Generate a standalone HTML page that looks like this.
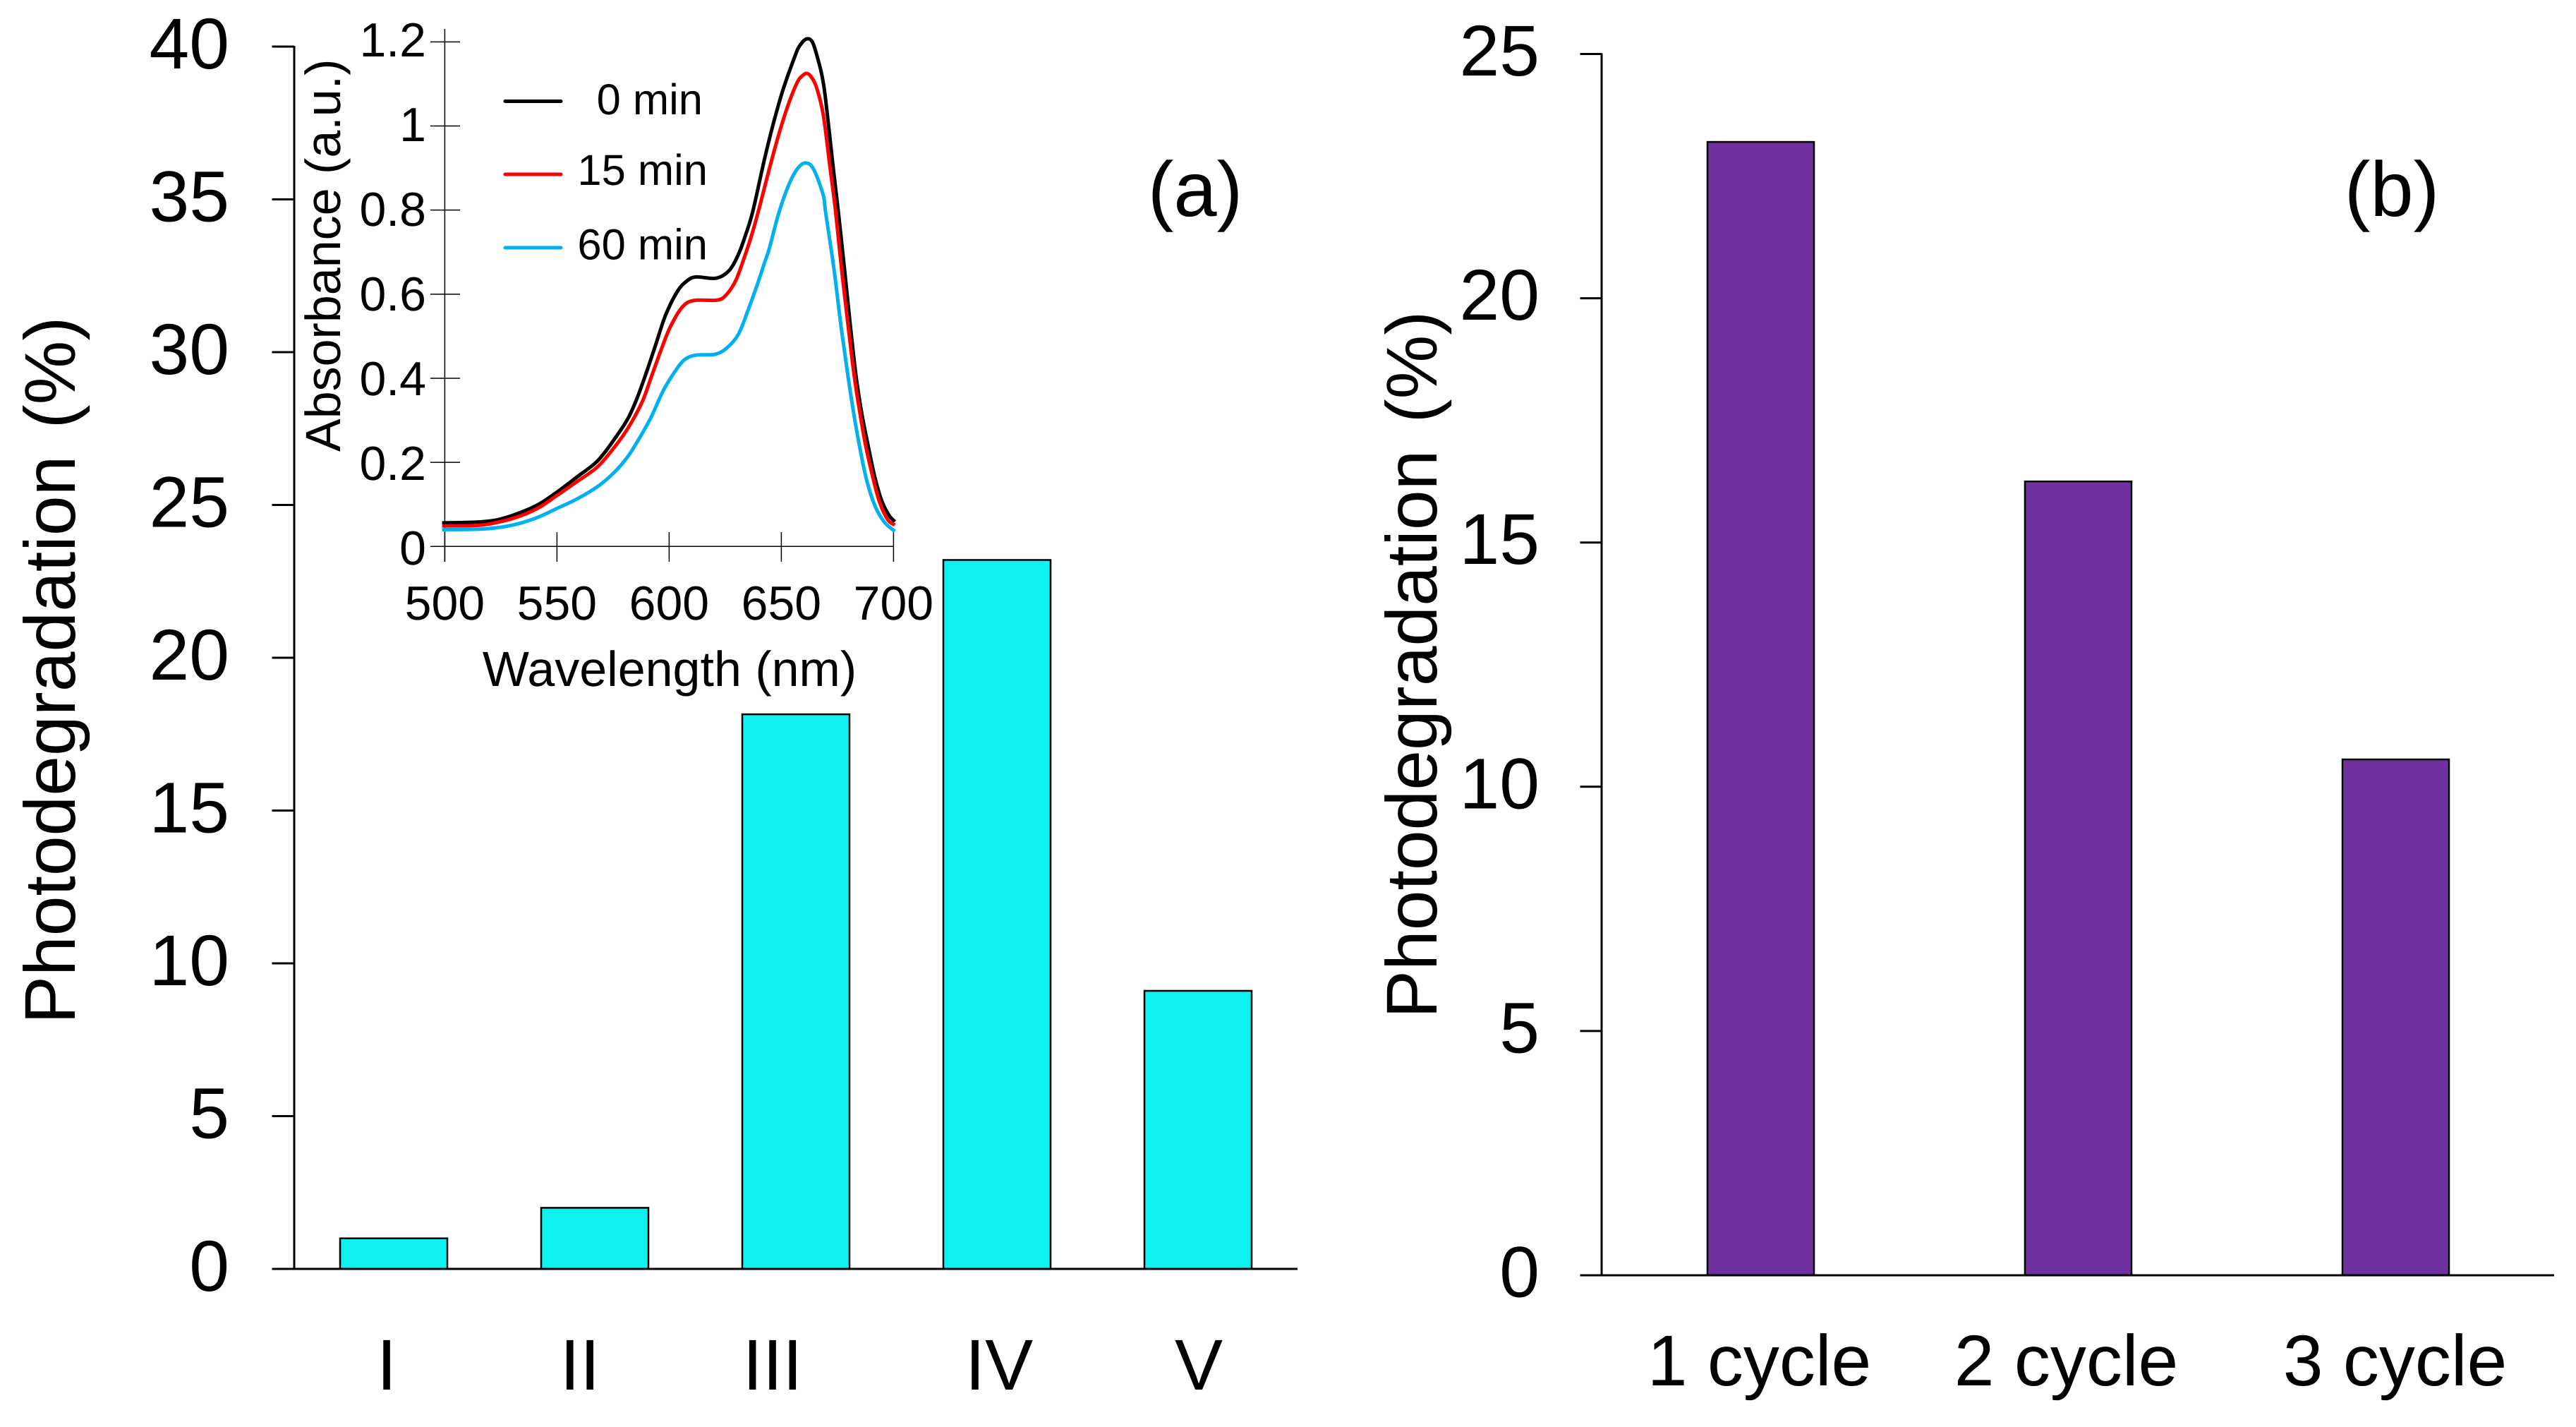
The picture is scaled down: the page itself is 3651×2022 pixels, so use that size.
<!DOCTYPE html>
<html lang="en">
<head>
<meta charset="utf-8">
<title>Photodegradation charts</title>
<style>
html,body{margin:0;padding:0;background:#fff;}
svg{display:block;}
text{font-family:"Liberation Sans",Arial,sans-serif;fill:#000;text-rendering:geometricPrecision;}
</style>
</head>
<body>
<svg id="figure" xmlns="http://www.w3.org/2000/svg" width="3651" height="2022" viewBox="0 0 3651 2022">
<rect x="0" y="0" width="3651" height="2022" fill="#fff"/>
<g id="panel-a"></g>
<g id="inset"></g>
<g id="panel-b"></g>
<text font-size="102" word-spacing="10" transform="translate(106 1451) rotate(-90)">Photodegradation (%)</text>
<text font-size="102" word-spacing="10" transform="translate(2036 1443) rotate(-90)">Photodegradation (%)</text>
<text font-size="70" transform="translate(482 640) rotate(-90)">Absorbance (a.u.)</text>
<text font-size="70" x="949" y="972" text-anchor="middle">Wavelength (nm)</text>
<text font-size="110" x="1694" y="306" text-anchor="middle">(a)</text>
<text font-size="110" x="3390" y="306" text-anchor="middle">(b)</text>
</svg>
<script>
// Panel (a) data
const catsA = ['I', 'II', 'III', 'IV', 'V'];
const valuesA = [1.0, 2.0, 18.15, 23.2, 9.1];
const ticksA = [0, 5, 10, 15, 20, 25, 30, 35, 40];

// Panel (b) data
const catsB = ['1 cycle', '2 cycle', '3 cycle'];
const valuesB = [23.2, 16.25, 10.56];
const ticksB = [0, 5, 10, 15, 20, 25];

// Inset data
const insetXTicks = [500, 550, 600, 650, 700];
const insetYTicks = [0, 0.2, 0.4, 0.6, 0.8, 1, 1.2];
const legendLabels = ['0 min', '15 min', '60 min'];

const nm0 = [498.8, 514.5, 524, 533.4, 541.8, 550.2, 558.6, 568, 575.3, 581.6, 585.8, 590, 594.2, 598.4, 603.6, 607.8, 612, 620.9, 626.7, 630.9, 634, 637.2, 642.4, 646.6, 650.8, 656, 658.1, 661.2, 663.9, 666.5, 668.1, 669.7, 673.2, 675.4, 678.1, 680.7, 683.3, 685.9, 688.6, 691.7, 694.8, 698, 700.6];
const abs0 = [0.056, 0.058, 0.064, 0.080, 0.100, 0.130, 0.164, 0.203, 0.253, 0.304, 0.354, 0.416, 0.483, 0.550, 0.606, 0.631, 0.641, 0.638, 0.656, 0.695, 0.740, 0.795, 0.919, 1.009, 1.087, 1.165, 1.190, 1.207, 1.199, 1.155, 1.120, 1.065, 0.897, 0.796, 0.662, 0.528, 0.405, 0.315, 0.242, 0.164, 0.108, 0.074, 0.059];

const nm15 = [498.8, 514.5, 524, 533.4, 541.8, 550.2, 558.6, 568, 575.3, 581.6, 587.9, 592.1, 596.3, 600.5, 605.8, 611, 621.5, 625.7, 629.8, 634, 637.2, 640.5, 644.3, 648.7, 652.9, 657.1, 659.5, 661.2, 663, 665.6, 668.7, 671.8, 674.2, 676.8, 679.7, 682.5, 685.1, 687.5, 690.8, 693.8, 697.5, 700.6];
const abs15 = [0.049, 0.050, 0.058, 0.072, 0.092, 0.122, 0.153, 0.189, 0.234, 0.281, 0.343, 0.404, 0.466, 0.522, 0.569, 0.585, 0.586, 0.600, 0.634, 0.695, 0.748, 0.812, 0.891, 0.977, 1.048, 1.104, 1.120, 1.125, 1.119, 1.093, 1.026, 0.897, 0.796, 0.662, 0.528, 0.405, 0.315, 0.242, 0.164, 0.105, 0.063, 0.051];

const nm60 = [498.8, 514.5, 524, 533.4, 541.8, 550.2, 558.6, 568, 575.3, 581.6, 586.9, 592.1, 597.4, 602.6, 606.8, 612, 620.4, 625.7, 630.9, 635.1, 639.3, 642.4, 644.6, 648.7, 653, 657, 660.8, 664.4, 668.7, 669.7, 673.4, 676.5, 679.7, 682.3, 684.9, 688, 691.7, 695.9, 700.6];
const abs60 = [0.040, 0.041, 0.045, 0.055, 0.070, 0.091, 0.112, 0.142, 0.175, 0.214, 0.259, 0.309, 0.371, 0.416, 0.444, 0.455, 0.457, 0.472, 0.505, 0.561, 0.623, 0.673, 0.708, 0.790, 0.856, 0.897, 0.912, 0.897, 0.835, 0.796, 0.662, 0.528, 0.405, 0.315, 0.237, 0.158, 0.097, 0.058, 0.036];

// Layout (not data)
const SVGNS = 'http://www.w3.org/2000/svg';
const gA = document.getElementById('panel-a');
const gB = document.getElementById('panel-b');
const gI = document.getElementById('inset');

function mk(parent, tag, attrs, txt) {
  const el = document.createElementNS(SVGNS, tag);
  for (const k in attrs) el.setAttribute(k, attrs[k]);
  if (txt !== undefined) el.textContent = txt;
  parent.appendChild(el);
  return el;
}

const yA = v => 1798 - v * 43.3;
const xA = i => 558 + i * 285;
const yB = v => 1807 - v * 69.22;
const xB = i => 2495.5 + i * 450;
const xI = w => 630.4 + (w - 500) * 3.18;
const yI = v => 774.3 - v * 595.8;

const nudgeA = [-10, -21, -33, 3, 1];
const nudgeB = [-2, -17, -1];

// Panel (a) axes
const axisAY = mk(gA, 'line', {x1: 417, x2: 417, y1: yA(40) - 1, y2: yA(0) + 1, stroke: '#000', 'stroke-width': 3});


ticksA.forEach(t => {
  const tick = mk(gA, 'line', {x1: 385.5, x2: 417, y1: yA(t), y2: yA(t), stroke: '#000', 'stroke-width': 3});
  
  
  const lab = mk(gA, 'text', {x: 325, y: yA(t) + 31, 'font-size': 102, 'text-anchor': 'end'}, String(t));
  
  
});

// Panel (a) bars
valuesA.forEach((v, i) => {
  const bar = mk(gA, 'rect', {x: xA(i) - 76, y: yA(v), width: 152, height: yA(0) - yA(v), fill: '#0FF0F0', stroke: '#000', 'stroke-width': 2.5});
  
  
  const lab = mk(gA, 'text', {x: xA(i) + nudgeA[i], y: 1969, 'font-size': 102, 'text-anchor': 'middle'}, catsA[i]);
  
  
});
const axisAX = mk(gA, 'line', {x1: 385.5, x2: 1839, y1: yA(0), y2: yA(0), stroke: '#000', 'stroke-width': 3});



// Panel (b) axes
const axisBY = mk(gB, 'line', {x1: 2270, x2: 2270, y1: yB(25) - 1, y2: yB(0) + 1, stroke: '#000', 'stroke-width': 3});


ticksB.forEach(t => {
  const tick = mk(gB, 'line', {x1: 2239.5, x2: 2270, y1: yB(t), y2: yB(t), stroke: '#000', 'stroke-width': 3});
  
  
  const lab = mk(gB, 'text', {x: 2182, y: yB(t) + 30.5, 'font-size': 102, 'text-anchor': 'end'}, String(t));
  
  
});

// Panel (b) bars
valuesB.forEach((v, i) => {
  const bar = mk(gB, 'rect', {x: xB(i) - 75.5, y: yB(v), width: 151, height: yB(0) - yB(v), fill: '#7030A0', stroke: '#000', 'stroke-width': 2.5});
  
  
  const lab = mk(gB, 'text', {x: xB(i) + nudgeB[i], y: 1963, 'font-size': 102, 'text-anchor': 'middle'}, catsB[i]);
  
  
});
const axisBX = mk(gB, 'line', {x1: 2239.5, x2: 3620, y1: yB(0), y2: yB(0), stroke: '#000', 'stroke-width': 3});



// Inset axes
const insetAxisY = mk(gI, 'line', {x1: xI(500), x2: xI(500), y1: 41, y2: 796, stroke: '#000', 'stroke-width': 1.5});


const insetAxisX = mk(gI, 'line', {x1: 610, x2: xI(700), y1: yI(0), y2: yI(0), stroke: '#000', 'stroke-width': 1.5});


insetYTicks.forEach(t => {
  const tick = mk(gI, 'line', {x1: 610, x2: 652, y1: yI(t), y2: yI(t), stroke: '#000', 'stroke-width': 1.5});
  
  
  const lab = mk(gI, 'text', {x: 604, y: 800 - t * 600, 'font-size': 68, 'text-anchor': 'end'}, String(t));
  
  
});
insetXTicks.forEach(t => {
  const tick = mk(gI, 'line', {x1: xI(t), x2: xI(t), y1: 754, y2: 796, stroke: '#000', 'stroke-width': 1.5});
  
  
  const lab = mk(gI, 'text', {x: xI(t), y: 878, 'font-size': 68, 'text-anchor': 'middle'}, String(t));
  
  
});

// Smooth path through points
function smooth(xs, ys) {
  const p = xs.map((x, i) => [xI(x), yI(ys[i])]);
  let d = 'M' + p[0][0].toFixed(2) + ' ' + p[0][1].toFixed(2);
  for (let i = 0; i < p.length - 1; i++) {
    const a = p[Math.max(i - 1, 0)], b = p[i], c = p[i + 1], e = p[Math.min(i + 2, p.length - 1)];
    const k = 1 / 6;
    const c1x = b[0] + (c[0] - a[0]) * k, c1y = b[1] + (c[1] - a[1]) * k;
    const c2x = c[0] - (e[0] - b[0]) * k, c2y = c[1] - (e[1] - b[1]) * k;
    d += 'C' + c1x.toFixed(2) + ' ' + c1y.toFixed(2) + ' ' + c2x.toFixed(2) + ' ' + c2y.toFixed(2) + ' ' + c[0].toFixed(2) + ' ' + c[1].toFixed(2);
  }
  return d;
}

const line0 = mk(gI, 'path', {d: smooth(nm0, abs0), fill: 'none', stroke: '#000', 'stroke-width': 5, 'stroke-linejoin': 'round'});


const line15 = mk(gI, 'path', {d: smooth(nm15, abs15), fill: 'none', stroke: '#FF0000', 'stroke-width': 5, 'stroke-linejoin': 'round'});


const line60 = mk(gI, 'path', {d: smooth(nm60, abs60), fill: 'none', stroke: '#00B0F0', 'stroke-width': 5, 'stroke-linejoin': 'round'});



// Legend
const legendColors = ['#000000', '#FF0000', '#00B0F0'];
const legendLineY = [143.5, 247, 351];
const legendTextY = [162, 262, 367.5];
const legendTextX = [996, 1003, 1003];
legendLabels.forEach((name, i) => {
  const sw = mk(gI, 'line', {x1: 716, x2: 795, y1: legendLineY[i], y2: legendLineY[i], stroke: legendColors[i], 'stroke-width': 5, 'stroke-linecap': 'round'});
  
  
  const lab = mk(gI, 'text', {x: legendTextX[i], y: legendTextY[i], 'font-size': 61.5, 'text-anchor': 'end'}, name);
  
  
});
</script>
</body>
</html>
